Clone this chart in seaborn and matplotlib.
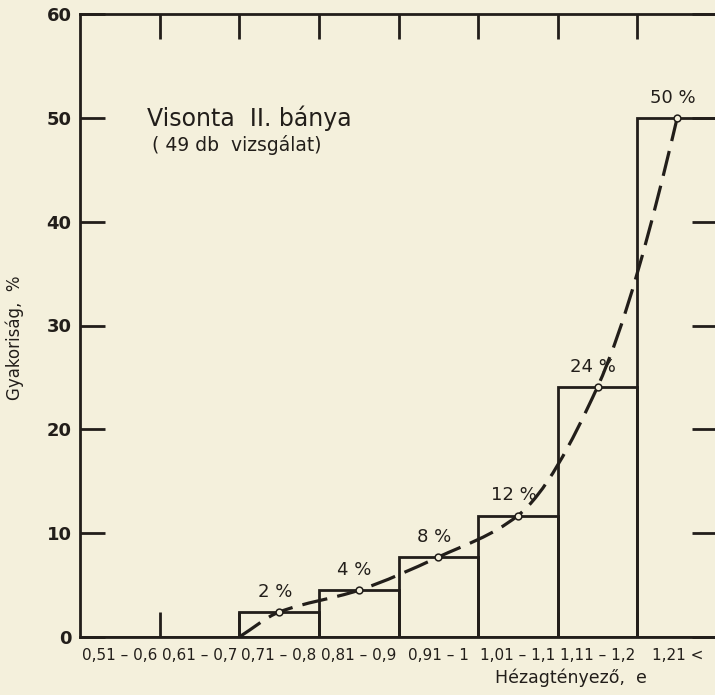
import numpy as np
import pandas as pd
import seaborn as sns
import matplotlib.pyplot as plt
from matplotlib.path import Path
from matplotlib.patches import PathPatch

# classes of the void ratio (hezagtenyezo) and their frequency in %
categories = ['0,51 – 0,6', '0,61 – 0,7', '0,71 – 0,8', '0,81 – 0,9',
              '0,91 – 1', '1,01 – 1,1', '1,11 – 1,2', '1,21 <']
freq = [0, 0, 2.4, 4.5, 7.7, 11.7, 24.1, 50]
freq_labels = ['', '', '2 %', '4 %', '8 %', '12 %', '24 %', '50 %']

# points of the dashed fitted curve (category index, %)
curve_x = [1.5, 2, 3, 4, 5, 6, 7]
curve_y = [0, 2.4, 4.5, 7.7, 11.7, 24.1, 50]

paper = '#f4f0dc'
ink = '#221e1a'

sns.set_style('white')
plt.rcParams['font.family'] = ['DejaVu Sans']

df = pd.DataFrame({'cat': categories, 'freq': freq})

fig = plt.figure(figsize=(7.15, 6.95), dpi=100, facecolor=paper)
ax = fig.add_axes([80 / 715, 58 / 695, 637 / 715, 623 / 695])
ax.set_facecolor(paper)

sns.barplot(data=df, x='cat', y='freq', width=1, fill=False, color=ink,
            linewidth=2.0, ax=ax)

# smooth dashed curve (pchip-like slopes -> bezier segments)
xs = np.array(curve_x, dtype=float)
ys = np.array(curve_y, dtype=float)
sec = np.diff(ys) / np.diff(xs)
m = np.zeros_like(ys)
m[0] = sec[0]
for i in range(1, len(xs) - 1):
    m[i] = 2 / (1 / sec[i - 1] + 1 / sec[i])
m[-1] = sec[-1] + (sec[-1] - sec[-2]) / 2
verts = [(xs[0], ys[0])]
codes = [Path.MOVETO]
for i in range(len(xs) - 1):
    h = xs[i + 1] - xs[i]
    verts += [(xs[i] + h / 3, ys[i] + m[i] * h / 3),
              (xs[i + 1] - h / 3, ys[i + 1] - m[i + 1] * h / 3),
              (xs[i + 1], ys[i + 1])]
    codes += [Path.CURVE4] * 3
ax.add_patch(PathPatch(Path(verts, codes), fill=False, edgecolor=ink,
                       linewidth=2.3, linestyle=(0, (8, 3.2)), zorder=4))

# small circles + percent labels
idx = [i for i in range(len(freq)) if freq_labels[i]]
ax.scatter(idx, [freq[i] for i in idx], s=24, facecolor=paper,
           edgecolor=ink, linewidth=1.1, zorder=5)
for i in idx:
    ax.annotate(freq_labels[i], (i, freq[i]), xytext=(-3, 8),
                textcoords='offset points', ha='center', va='bottom',
                fontsize=13, color=ink)

ax.set_ylim(0, 60)
ax.set_xlim(-0.5, 7.5)
ax.set_yticks([0, 10, 20, 30, 40, 50, 60])
ax.set_yticklabels(['0', '10', '20', '30', '40', '50', '60'],
                   fontsize=13, fontweight='bold', color=ink)
ax.set_xticks(range(len(categories)))
ax.set_xticklabels(categories, fontsize=11, color=ink)
ax.set_xticks(np.arange(0.5, 7.5, 1), minor=True)
ax.tick_params(axis='x', which='major', length=0, pad=8)
ax.tick_params(axis='x', which='minor', direction='in', length=18,
               width=2, color=ink, top=True, bottom=True)
ax.tick_params(axis='y', which='major', direction='in', length=18, width=2,
               color=ink, left=True, right=True, pad=6)
for s in ax.spines.values():
    s.set_color(ink)
    s.set_linewidth(2.0)
    s.set_visible(True)

ax.set_xlabel('Hézagtényező,  e', fontsize=12.5, color=ink)
ax.xaxis.set_label_coords(0.77, -0.05)
ax.set_ylabel('Gyakoriság,  %', fontsize=12, color=ink)
ax.yaxis.set_label_coords(-0.088, 0.48)

ax.text(0.34, 50.0, 'Visonta  II. bánya', fontsize=17, color=ink,
        va='center', ha='left')
ax.text(0.4, 47.4, '( 49 db  vizsgálat)', fontsize=13.5, color=ink,
        va='center', ha='left')

fig.savefig('out.png', dpi=100, facecolor=paper)
